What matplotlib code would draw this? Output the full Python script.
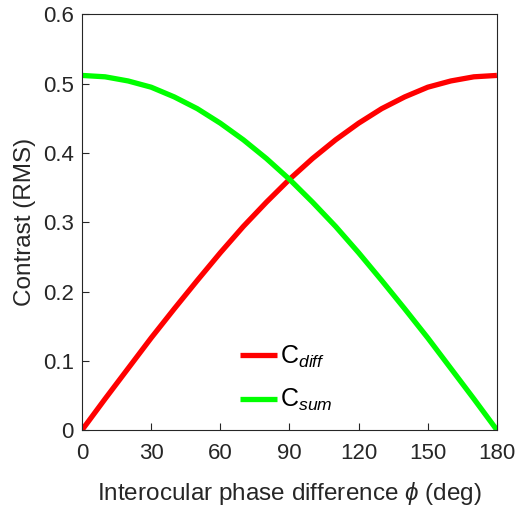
import matplotlib
matplotlib.use("Agg")
import matplotlib.pyplot as plt

plt.rcParams["font.family"] = ["Liberation Sans", "DejaVu Sans"]
plt.rcParams["mathtext.fontset"] = "custom"
plt.rcParams["mathtext.rm"] = "Liberation Sans"
plt.rcParams["mathtext.it"] = "Liberation Sans:italic"

# interocular phase difference (deg) and RMS contrast
phase = [0, 10, 20, 30, 40, 50, 60, 70, 80, 90,
         100, 110, 120, 130, 140, 150, 160, 170, 180]
c_diff = [0.0, 0.045, 0.089, 0.133, 0.175, 0.216, 0.256, 0.294, 0.329, 0.362,
          0.392, 0.419, 0.443, 0.464, 0.481, 0.495, 0.504, 0.510, 0.512]
c_sum = [0.512, 0.510, 0.504, 0.495, 0.481, 0.464, 0.443, 0.419, 0.392, 0.362,
         0.329, 0.294, 0.256, 0.216, 0.175, 0.133, 0.089, 0.045, 0.0]

x_ticks = [0, 30, 60, 90, 120, 150, 180]
y_ticks = [0, 0.1, 0.2, 0.3, 0.4, 0.5, 0.6]

fig = plt.figure(figsize=(5.16, 5.08), dpi=100)
ax = fig.add_axes((0.159, 0.1535, 0.804, 0.818))

ax.plot(phase, c_diff, color=(1, 0, 0), lw=3.8, label=r"C$_{\mathit{diff}}$",
        solid_capstyle="butt")
ax.plot(phase, c_sum, color=(0, 1, 0), lw=3.8, label=r"C$_{\mathit{sum}}$",
        solid_capstyle="butt")

ax.set_xlim(0, 180)
ax.set_ylim(0, 0.6)
ax.set_xticks(x_ticks)
ax.set_yticks(y_ticks)
ax.set_yticklabels(["0", "0.1", "0.2", "0.3", "0.4", "0.5", "0.6"])
ax.tick_params(direction="in", length=5, width=0.8, labelsize=16,
               colors="#262626")
ax.tick_params(axis="x", pad=9)
ax.tick_params(axis="y", pad=6)
for s in ax.spines.values():
    s.set_linewidth(0.8)
    s.set_color("#262626")

ax.set_xlabel(r"Interocular phase difference $\phi$ (deg)", fontsize=17.5,
              color="#262626", labelpad=12)
ax.set_ylabel("Contrast (RMS)", fontsize=17.5, color="#262626", labelpad=5)

ax.legend(loc="upper left", bbox_to_anchor=(0.381, 0.208), frameon=False,
          fontsize=18, handlelength=1.48, handletextpad=0.12,
          labelspacing=0.7, borderpad=0, borderaxespad=0)

fig.savefig("out.png", dpi=100)
